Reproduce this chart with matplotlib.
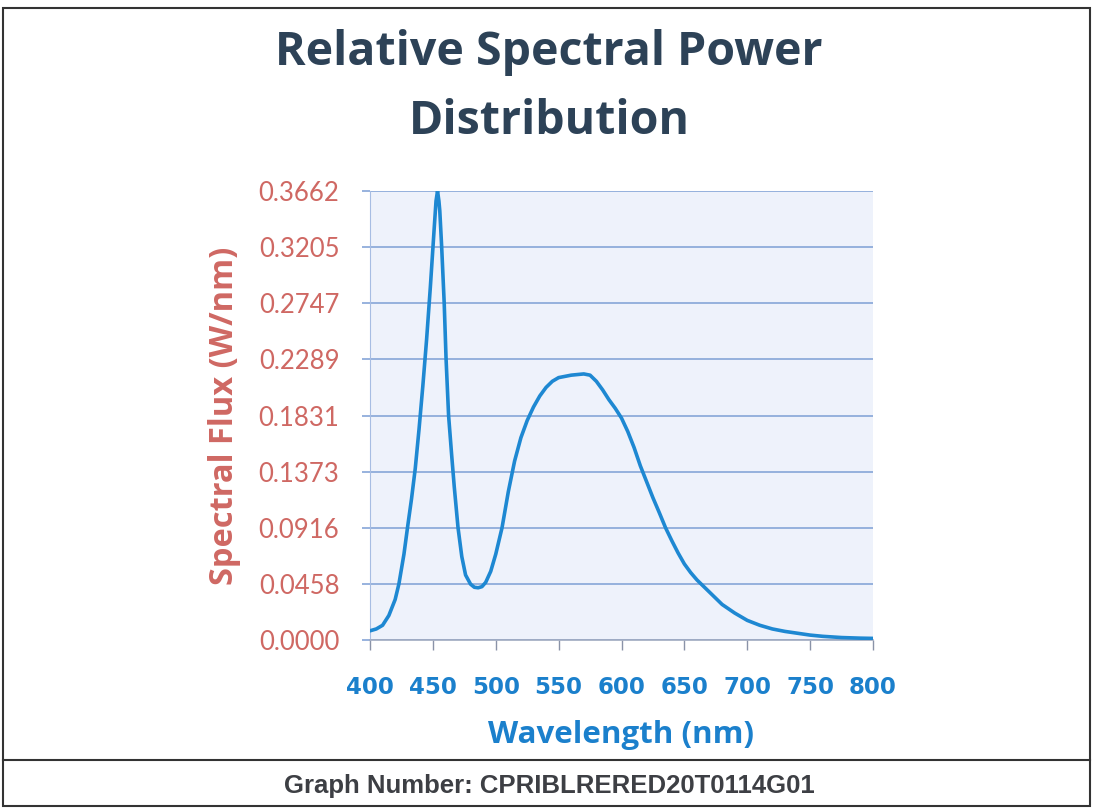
import matplotlib
matplotlib.use("Agg")
import matplotlib.pyplot as plt
from matplotlib.lines import Line2D
from matplotlib.patches import Rectangle

# wavelength (nm) and relative spectral flux (W/nm)
wavelength = [400, 405, 410, 415, 420, 423, 427, 430, 433, 436, 439, 442, 445,
              448, 451, 452.5, 453.7, 454.8, 455.5, 457, 459, 460.5, 462.5, 465,
              467, 470, 473, 476, 480, 483, 486, 489, 492, 496, 500, 505, 510,
              515, 520, 525, 530, 535, 540, 545, 550, 560, 570, 575, 580, 585,
              590, 595, 600, 605, 610, 615, 620, 625, 630, 635, 640, 645, 650,
              655, 660, 665, 670, 680, 690, 700, 710, 720, 730, 740, 750, 760,
              775, 790, 800]
flux = [0.0075, 0.009, 0.012, 0.020, 0.033, 0.0458, 0.070, 0.093, 0.115, 0.140,
        0.172, 0.207, 0.245, 0.288, 0.335, 0.358, 0.3662, 0.358, 0.350, 0.3205,
        0.275, 0.229, 0.183, 0.150, 0.125, 0.0916, 0.068, 0.053, 0.0455, 0.043,
        0.0426, 0.0435, 0.047, 0.056, 0.070, 0.0916, 0.121, 0.146, 0.165, 0.179,
        0.190, 0.199, 0.206, 0.211, 0.214, 0.216, 0.217, 0.216, 0.211, 0.204,
        0.196, 0.189, 0.181, 0.170, 0.157, 0.142, 0.129, 0.116, 0.104, 0.0916,
        0.081, 0.071, 0.062, 0.055, 0.049, 0.044, 0.039, 0.029, 0.022, 0.016,
        0.012, 0.009, 0.007, 0.0055, 0.004, 0.003, 0.002, 0.0015, 0.0013]

y_ticks = [0.0, 0.0458, 0.0916, 0.1373, 0.1831, 0.2289, 0.2747, 0.3205, 0.3662]
x_ticks = [400, 450, 500, 550, 600, 650, 700, 750, 800]

title = "Relative Spectral Power\nDistribution"
footer = "Graph Number: CPRIBLRERED20T0114G01"

red = "#cf6863"
blue = "#1b80cc"
grid_col = "#86a6d8"

fig = plt.figure(figsize=(10.93, 8.09), dpi=100)
W, H = 1093, 809
ax = fig.add_axes([370 / W, 1 - 640 / H, 503 / W, 449 / H])
ax.set_facecolor("#eef2fb")

ax.plot(wavelength, flux, color="#1e88d2", lw=2.6, solid_capstyle="round",
        solid_joinstyle="round", zorder=3)

ax.set_xlim(400, 800)
ax.set_ylim(0, 0.3662)
ax.set_yticks(y_ticks)
ax.set_yticklabels([f"{v:.4f}" for v in y_ticks])
ax.set_xticks(x_ticks)
ax.set_xticklabels([str(v) for v in x_ticks])
ax.yaxis.grid(True, color=grid_col, lw=1.2)
ax.set_axisbelow(True)

for s in ["top", "right"]:
    ax.spines[s].set_visible(False)
ax.spines["left"].set_color("#a7bde3")
ax.spines["bottom"].set_color("#a0aac0")
ax.spines["bottom"].set_linewidth(1.2)

ax.tick_params(axis="y", length=6, color=grid_col, width=1.2, pad=16,
               labelsize=18.5, labelcolor=red)
ax.tick_params(axis="x", length=7, color="#8a93a8", width=1, pad=19,
               labelsize=16.5, labelcolor=blue)
for lab in ax.get_yticklabels():
    lab.set_fontfamily(["Lato", "DejaVu Sans"])
for lab in ax.get_xticklabels():
    lab.set_fontfamily(["DejaVu Sans"])
    lab.set_fontweight("bold")

ax.set_ylabel("Spectral Flux (W/nm)", color=red, fontsize=23.5, fontweight="bold",
              family=["Open Sans", "DejaVu Sans"], va="center")
ax.yaxis.set_label_coords((225 - 370) / 503, 0.5)
ax.set_xlabel("Wavelength (nm)", color=blue, fontsize=22.5, fontweight="bold",
              family=["Open Sans", "DejaVu Sans"], va="center")
ax.xaxis.set_label_coords(0.5, -(735 - 640) / 449)

fig.text(549 / W, 1 - 87 / H, title, ha="center", va="center", color="#2d4257",
         fontsize=33.5, fontweight="bold", family=["Open Sans", "DejaVu Sans"],
         linespacing=1.6)

fig.text(549 / W, 1 - 786 / H, footer, ha="center", va="center", color="#3d3f44",
         fontsize=18.5, fontweight="bold",
         family=["Liberation Sans Narrow", "Liberation Sans", "DejaVu Sans"])

# page frame and footer separator
fig.patches.append(Rectangle((3 / W, 1 - 806 / H), 1087 / W, 798 / H,
                             transform=fig.transFigure, fill=False,
                             edgecolor="#333333", lw=1.5))
fig.lines.append(Line2D([3 / W, 1090 / W], [1 - 760 / H, 1 - 760 / H],
                        transform=fig.transFigure, color="#333333", lw=1.5))

fig.savefig("out.png", dpi=100)
